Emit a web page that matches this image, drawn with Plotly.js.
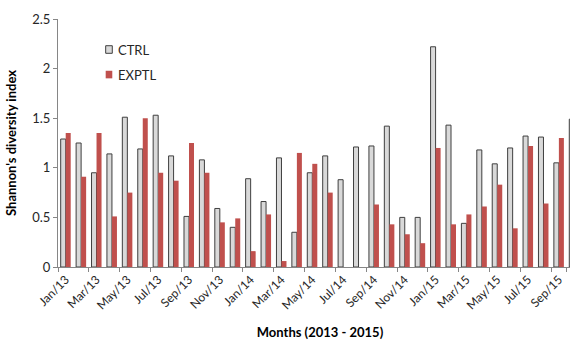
<!DOCTYPE html>
<html>
<head>
<meta charset="utf-8">
<script src="https://cdn.plot.ly/plotly-3.0.1.min.js"></script>
<style>
html, body { margin: 0; padding: 0; overflow: hidden; background: #fff; }
#chart { width: 582px; height: 340px; }
</style>
</head>
<body>
<div id="chart"></div>
<script>
const months = ["Jan/13","Feb/13","Mar/13","Apr/13","May/13","Jun/13","Jul/13","Aug/13","Sep/13","Oct/13","Nov/13","Dec/13",
                "Jan/14","Feb/14","Mar/14","Apr/14","May/14","Jun/14","Jul/14","Aug/14","Sep/14","Oct/14","Nov/14","Dec/14",
                "Jan/15","Feb/15","Mar/15","Apr/15","May/15","Jun/15","Jul/15","Aug/15","Sep/15","Oct/15"];
const ctrl = [1.29,1.25,0.95,1.14,1.51,1.19,1.53,1.12,0.51,1.08,0.59,0.40,
              0.89,0.66,1.10,0.35,0.95,1.12,0.88,1.21,1.22,1.42,0.50,0.50,
              2.22,1.43,0.44,1.18,1.04,1.20,1.32,1.31,1.05,1.49];
const exptl = [1.35,0.91,1.35,0.51,0.75,1.50,0.95,0.87,1.25,0.95,0.45,0.49,
               0.16,0.53,0.06,1.15,1.04,0.75,0,0,0.63,0.43,0.33,0.24,
               1.20,0.43,0.53,0.61,0.83,0.39,1.22,0.64,1.30,null];
const tickLabels = months.filter((m, i) => i % 2 === 0);
const seriesNames = ["CTRL", "EXPTL"];

const ctrlFill = "#d9d9d9", ctrlLine = "#3f3f3f", exptlFill = "#c0504d";
const FONT = "Lato, 'Open Sans', sans-serif";

const traces = [
  { type: "bar", x: months, y: ctrl, name: seriesNames[0],
    marker: { color: ctrlFill, line: { color: ctrlLine, width: 1 } } },
  { type: "bar", x: months, y: exptl, name: seriesNames[1],
    marker: { color: exptlFill, line: { width: 0 } } }
];

// Legend drawn inside the plot (Excel-style compact legend)
const legendStyle = [
  { fill: ctrlFill, line: ctrlLine, lw: 1 },
  { fill: exptlFill, line: exptlFill, lw: 0 }
];
const legY = [0.877, 0.776];
const shapes = [], annotations = [];
seriesNames.forEach((nm, i) => {
  shapes.push({ type: "rect", xref: "paper", yref: "paper",
    x0: 0.091, x1: 0.1036, y0: legY[i] - 0.0153, y1: legY[i] + 0.0153,
    fillcolor: legendStyle[i].fill, line: { color: legendStyle[i].line, width: legendStyle[i].lw } });
  annotations.push({ xref: "paper", yref: "paper", x: 0.1107, y: legY[i],
    xanchor: "left", yanchor: "middle", text: nm, showarrow: false,
    font: { family: FONT, size: 13, color: "#262626" } });
});

const layout = {
  width: 582, height: 340,
  margin: { l: 58, r: 0, t: 19, b: 73, pad: 0 },
  paper_bgcolor: "#fff", plot_bgcolor: "#fff",
  barmode: "group", bargap: 0.35, bargroupgap: 0,
  font: { family: FONT, size: 12, color: "#262626" },
  showlegend: false,
  shapes: shapes, annotations: annotations,
  xaxis: {
    type: "category", categoryorder: "array", categoryarray: months,
    range: [-0.5, 33.5],
    tickmode: "array", tickvals: tickLabels, ticktext: tickLabels,
    tickson: "boundaries", ticks: "outside", ticklen: 4, tickcolor: "#868686",
    tickangle: -45, tickfont: { family: FONT, size: 12, color: "#262626" },
    showline: true, linecolor: "#868686", linewidth: 1,
    showgrid: false, zeroline: false,
    title: { text: "<b>Months (2013 - 2015)</b>", font: { family: FONT, size: 13, color: "#000" }, standoff: 18 }
  },
  yaxis: {
    range: [0, 2.5], tickmode: "linear", tick0: 0, dtick: 0.5,
    ticks: "outside", ticklen: 4, tickcolor: "#868686",
    tickfont: { family: FONT, size: 13, color: "#262626" },
    showline: true, linecolor: "#868686", linewidth: 1,
    showgrid: false, zeroline: false,
    title: { text: "<b>Shannon's diversity index</b>", font: { family: FONT, size: 13, color: "#000" }, standoff: 12 }
  }
};

Plotly.newPlot("chart", traces, layout, { displayModeBar: false, staticPlot: true });
</script>
</body>
</html>
